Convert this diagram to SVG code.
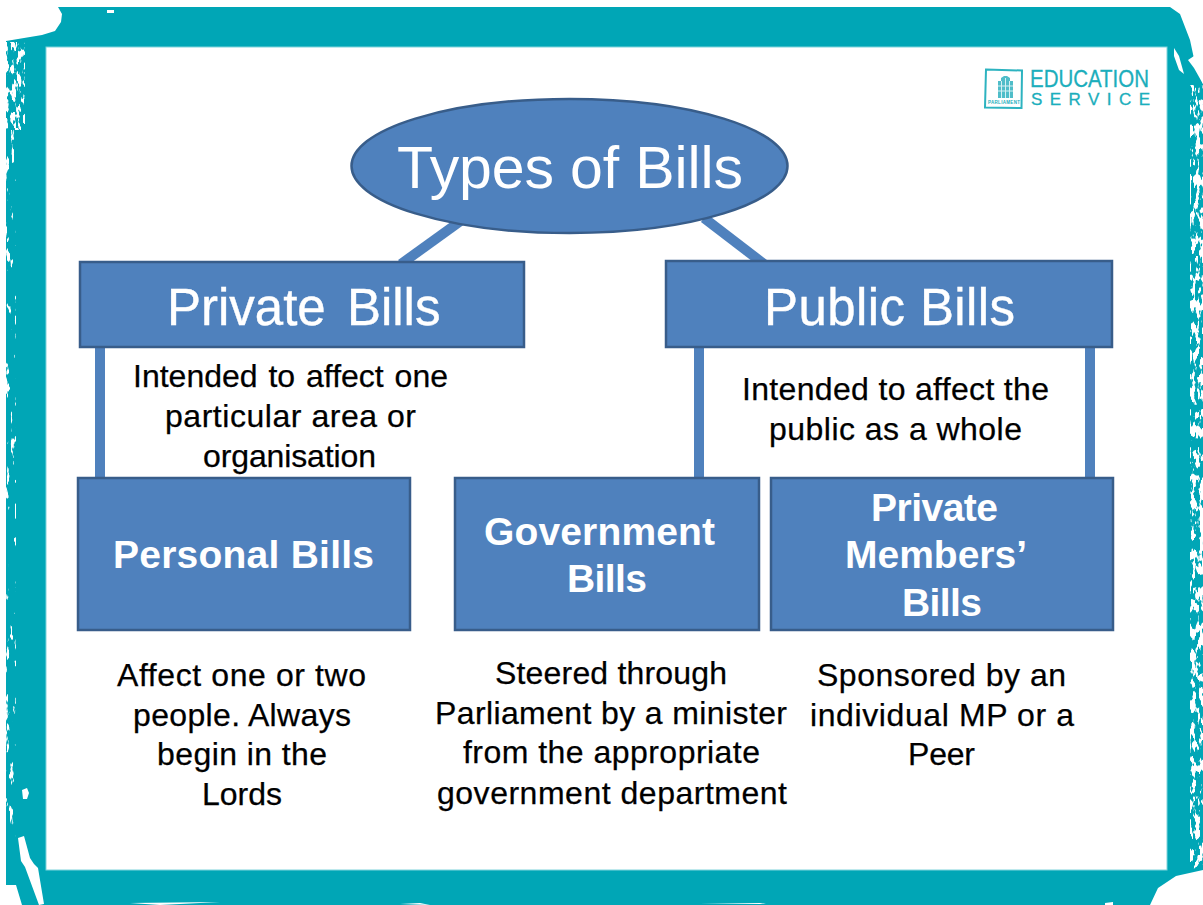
<svg xmlns="http://www.w3.org/2000/svg" width="1203" height="905" viewBox="0 0 1203 905">
<style>
.node{fill:#4F81BD;stroke:#385D8A;stroke-width:2.5}
.conn{stroke:#4F81BD;stroke-width:10;fill:none}
text{font-family:"Liberation Sans",Arial,sans-serif}
.head{fill:#fff;font-size:51px;stroke:#fff;stroke-width:.4}
.sub{fill:#fff;font-size:39px;font-weight:bold}
.body{fill:#000;font-size:32px;stroke:#000;stroke-width:.25}
.logo{fill:#1BAEBC;stroke:#1BAEBC;stroke-width:.3}
</style>
<defs>
<filter id="speckA" filterUnits="userSpaceOnUse" x="0" y="0" width="1203" height="905" color-interpolation-filters="sRGB">
<feTurbulence type="fractalNoise" baseFrequency="0.2 0.06" numOctaves="3" seed="4"/>
<feColorMatrix type="matrix" values="0 0 0 0 1  0 0 0 0 1  0 0 0 0 1  14 0 0 0 -8.800"/>
</filter>
<filter id="speckB" filterUnits="userSpaceOnUse" x="0" y="0" width="1203" height="905" color-interpolation-filters="sRGB">
<feTurbulence type="fractalNoise" baseFrequency="0.24 0.08" numOctaves="3" seed="11"/>
<feColorMatrix type="matrix" values="0 0 0 0 1  0 0 0 0 1  0 0 0 0 1  14 0 0 0 -7"/>
</filter>
<clipPath id="leftBand"><rect x="6" y="130" width="10" height="710"/></clipPath>
<clipPath id="leftTop"><rect x="6" y="42" width="19" height="88"/></clipPath>
<clipPath id="rightBand"><path d="M1190 85L1203 85L1203 866L1190 870Z"/></clipPath>
</defs>
<rect width="1203" height="905" fill="#fff"/>
<g id="frame">
<path fill="#00A6B6" d="M58 7L1170 7L1180 14L1190 40L1196 68L1203 84L1203 870L1176 876L1158 888L1150 905L6 905L6 41L42 35L55 31L61 22L62 14Z"/>
<rect x="6" y="130" width="10" height="710" filter="url(#speckA)" clip-path="url(#leftBand)"/>
<rect x="6" y="42" width="19" height="88" filter="url(#speckB)" clip-path="url(#leftTop)"/>
<rect x="1190" y="85" width="13" height="785" filter="url(#speckB)" clip-path="url(#rightBand)"/>
<path fill="#fff" d="M107 10l7 0l0 3l-7 0zM1174 48l5 8l5 18l-5 -4l-5 -14zM1188 60l6 8l9 16l0 -30l-6 0z"/>
<path fill="#fff" d="M18 838l6 -2l6 22l4 6l4 4l6 36l-5 1l-14 -38l-4 -6zM6 885l10 0l6 20l-16 0zM22 790l5 -2l2 5l-2 6l-4 0z"/>
<path fill="#fff" d="M1105 903l8 -1l0 3l-8 0zM130 903l90 -1l-60 3zM400 904l20 -1l10 2zM700 904l60 -1l6 1z"/>
</g>
<rect x="46" y="47" width="1121" height="823" fill="#fff" stroke="#7FD3DB" stroke-width="1"/>
<g id="logo">
<path fill="none" stroke="#2DB3C0" stroke-width="2" d="M986 69.500L1022 70.500L1021.500 108L985 107.500Z"/>
<path fill="#4FBDC9" d="M998 98L998 81L1001 81L1001 78L1004 76L1007 76L1010 78L1010 81L1013 81L1013 98Z"/>
<path fill="none" stroke="#D5F0F3" stroke-width="1" d="M1001.500 81V98M1005.500 78V98M1009.500 81V98M998 86H1013M998 91H1013"/>
<text x="988" y="104" font-size="4.500" textLength="32" fill="#1BAEBC" font-weight="bold">PARLIAMENT</text>
<text class="logo" x="1030" y="87" font-size="23" textLength="119" lengthAdjust="spacingAndGlyphs">EDUCATION</text>
<text class="logo" x="1031" y="105" font-size="17" textLength="119" lengthAdjust="spacing">SERVICE</text>
</g>
<g id="connectors">
<path class="conn" d="M401 264L462 220"/>
<path class="conn" d="M704 218L764 264"/>
<path class="conn" d="M100 345L100 480"/>
<path class="conn" d="M699 345L699 480"/>
<path class="conn" d="M1090 345L1090 480"/>
</g>
<g id="types-of-bills"><ellipse class="node" cx="569.500" cy="166" rx="218" ry="67"/><text x="397" y="188" font-size="59" fill="#fff" textLength="346">Types of Bills</text></g>
<g id="private-bills"><rect class="node" x="80" y="262" width="444" height="85"/><text class="head" x="167" y="325" word-spacing="7">Private Bills</text></g>
<g id="public-bills"><rect class="node" x="666" y="261" width="446" height="86"/><text class="head" x="764" y="325" textLength="251">Public Bills</text></g>
<g id="private-desc"><text class="body" x="133" y="387" word-spacing="2">Intended to affect one</text><text class="body" x="165" y="427" textLength="251">particular area or</text><text class="body" x="203" y="467" textLength="173">organisation</text></g>
<g id="public-desc"><text class="body" x="742" y="400" textLength="307">Intended to affect the</text><text class="body" x="769" y="440" textLength="253">public as a whole</text></g>
<g id="personal-bills"><rect class="node" x="78" y="478" width="332" height="152"/><text class="sub" x="113" y="568" textLength="261">Personal Bills</text></g>
<g id="government-bills"><rect class="node" x="455" y="478" width="304" height="152"/><text class="sub" x="484" y="545" textLength="231">Government</text><text class="sub" x="567" y="592" textLength="80">Bills</text></g>
<g id="private-members-bills"><rect class="node" x="771" y="478" width="342" height="152"/><text class="sub" x="871" y="521" textLength="127">Private</text><text class="sub" x="845" y="568" textLength="182">Members’</text><text class="sub" x="902" y="616" textLength="80">Bills</text></g>
<g id="personal-desc"><text class="body" x="117" y="686" textLength="249">Affect one or two</text><text class="body" x="133" y="726" textLength="218">people. Always</text><text class="body" x="157" y="765" textLength="170">begin in the</text><text class="body" x="202" y="805" textLength="80">Lords</text></g>
<g id="government-desc"><text class="body" x="495" y="684" textLength="232">Steered through</text><text class="body" x="435" y="724" textLength="352">Parliament by a minister</text><text class="body" x="463" y="763" textLength="297">from the appropriate</text><text class="body" x="437" y="804" textLength="350">government department</text></g>
<g id="members-desc"><text class="body" x="817" y="686" textLength="249">Sponsored by an</text><text class="body" x="810" y="726" textLength="264">individual MP or a</text><text class="body" x="908" y="765" textLength="67">Peer</text></g>
</svg>
